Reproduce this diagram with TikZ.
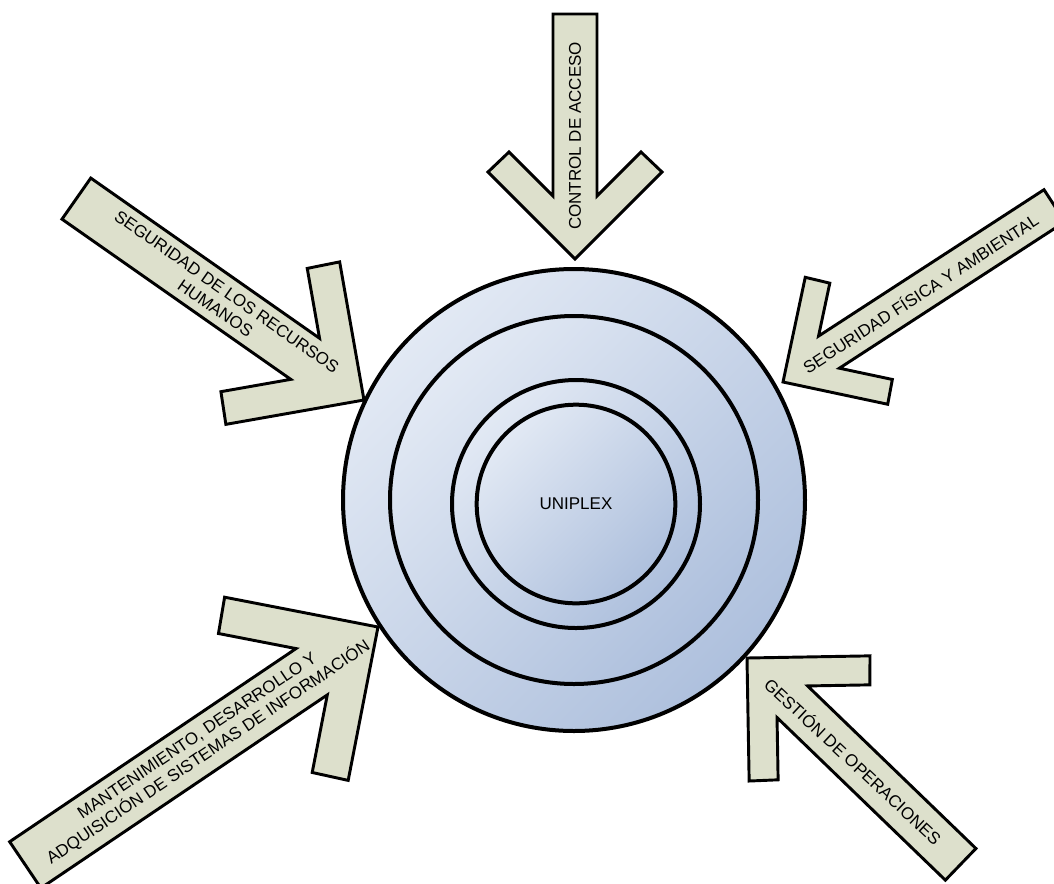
\documentclass[tikz,border=0pt]{standalone}
\usepackage{fontspec}
\setmainfont{Liberation Sans}
\usepackage{tikz}
\definecolor{armfill}{HTML}{DDE0CC}
\definecolor{disclight}{HTML}{E2E9F4}
\definecolor{discdark}{HTML}{AEC0DD}
\newcommand{\blockarrow}[1]{
(0,0) -- (-87,-87) -- (-107,-66) -- (-63,-22) -- (-#1,-22)
  -- (-#1,22) -- (-63,22) -- (-107,66) -- (-87,87) -- cycle
}
\tikzset{
  arm/.style={draw=black, fill=armfill, line width=2.2pt, line join=miter},
  ring/.style={circle, draw=black, line width=3pt, inner sep=0pt,
    top color=disclight, bottom color=discdark, shading angle=45},
  armtext/.style={font=\fontsize{12.75}{15}\selectfont, align=center, inner sep=0pt}
}

\begin{document}
\begin{tikzpicture}[x=0.75pt, y=-0.75pt]
\useasboundingbox (0,0) rectangle (1054,883);
\clip (0,0) rectangle (1054,883);

\begin{scope}[shift={(575,259)}, rotate=-90]
  \draw[arm] \blockarrow{245};
  \node[armtext, rotate=90] (acceso) at (-123,0) {CONTROL DE ACCESO};
\end{scope}
\begin{scope}[shift={(364,400)}, rotate=-35, scale=1.14]
  \draw[arm] \blockarrow{308};
  \node[armtext, rotate=-35] (humanos) at (-153,0) {SEGURIDAD DE LOS RECURSOS\\HUMANOS};
\end{scope}
\begin{scope}[shift={(783,382)}, rotate=-147, scale=0.87]
  \draw[arm] \blockarrow{372};
  \node[armtext, rotate=33] (fisica) at (-188,0) {SEGURIDAD FÍSICA Y AMBIENTAL};
\end{scope}
\begin{scope}[shift={(378,627)}, rotate=34, scale=1.27]
  \draw[arm] \blockarrow{335};
  \node[armtext, rotate=34] (sistemas) at (-166,0)
    {MANTENIMIENTO, DESARROLLO Y\\ADQUISICIÓN DE SISTEMAS DE INFORMACIÓN};
\end{scope}
\begin{scope}[shift={(747,658)}, rotate=-224]
  \draw[arm] \blockarrow{297};
  \node[armtext, rotate=-43] (operaciones) at (-148,0) {GESTIÓN DE OPERACIONES};
\end{scope}

\node[ring, minimum size=346.5pt] (outer) at (574,500) {};
\node[ring, minimum size=276pt] (middle) at (574,500) {};
\node[ring, minimum size=186pt] (inner) at (576,504) {};
\node[ring, minimum size=149pt, font=\fontsize{12.75}{15}\selectfont] (core) at (576,504) {UNIPLEX};
\end{tikzpicture}
\end{document}
